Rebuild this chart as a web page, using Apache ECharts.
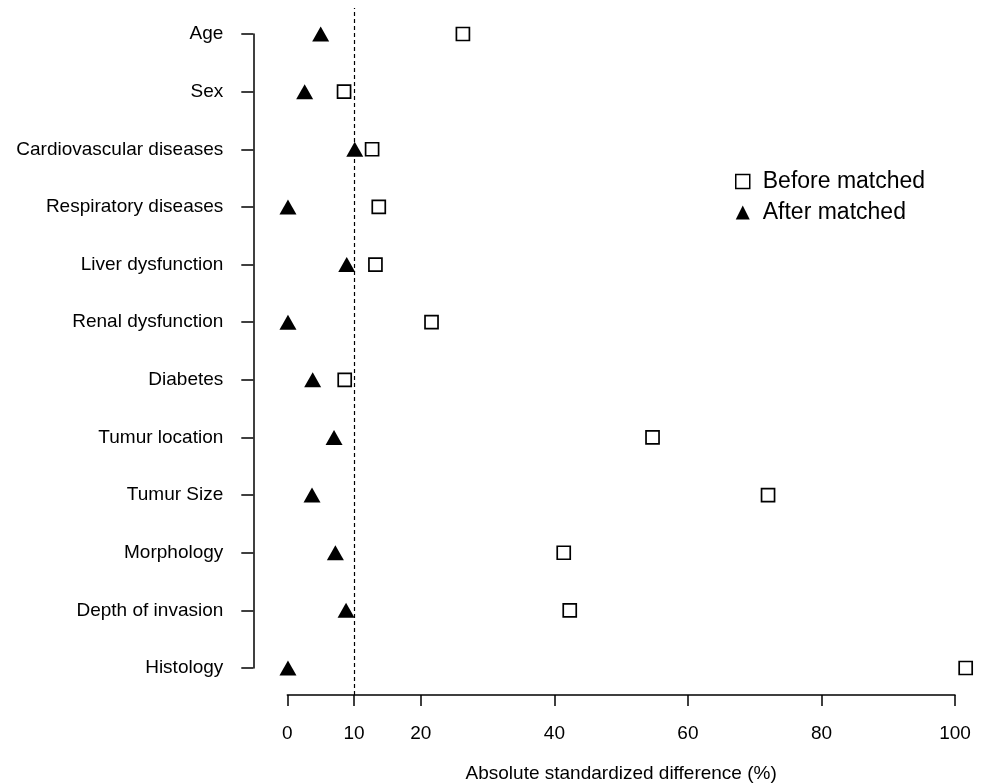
<!DOCTYPE html>
<html>
<head>
<meta charset="utf-8">
<script src="https://cdn.jsdelivr.net/npm/echarts@6/dist/echarts.min.js"></script>
<style>html,body{margin:0;padding:0;background:#fff}#chart{width:984px;height:783px}</style>
</head>
<body>
<div id="chart"></div>
<script>
const categories = ["Age","Sex","Cardiovascular diseases","Respiratory diseases","Liver dysfunction","Renal dysfunction","Diabetes","Tumur location","Tumur Size","Morphology","Depth of invasion","Histology"];
const beforeMatched = [26.3, 8.5, 12.7, 13.7, 13.2, 21.6, 8.6, 54.7, 72.0, 41.4, 42.3, 101.6];
const afterMatched = [5.0, 2.6, 10.1, 0.1, 8.9, 0.1, 3.8, 7.0, 3.7, 7.2, 8.8, 0.1];
const tickValues = [0, 10, 20, 40, 60, 80, 100];
const threshold = 10;
const xTitle = "Absolute standardized difference (%)";

const FONT = "'Liberation Sans', Arial, sans-serif";
const chart = echarts.init(document.getElementById('chart'), null, {renderer: 'canvas'});
chart.setOption({
  animation: false,
  backgroundColor: '#fff',
  textStyle: {fontFamily: FONT, color: '#000'},
  legend: {
    orient: 'vertical',
    left: 730, top: 165,
    itemWidth: 14, itemHeight: 14, itemGap: 8,
    textStyle: {fontFamily: FONT, fontSize: 23, color: '#000', lineHeight: 23, padding: [0,0,0,8]},
    data: [
      {name: 'Before matched', icon: 'rect', itemStyle: {color: '#fff', borderColor: '#000', borderWidth: 1.5, opacity: 1}},
      {name: 'After matched', icon: 'triangle', itemStyle: {color: '#000', opacity: 1}}
    ]
  },
  grid: [
    {left: 287.3, width: 667.7, top: 34, height: 634, containLabel: false, outerBoundsMode: 'none'},
    {left: 287.3, width: 667.7, top: 8, height: 687, containLabel: false, outerBoundsMode: 'none'}
  ],
  xAxis: [
    {gridIndex: 0, type: 'value', min: 0, max: 100, show: false},
    {gridIndex: 1, type: 'value', min: 0, max: 100, interval: 10,
     splitLine: {show: false},
     axisLine: {show: true, onZero: false, lineStyle: {color: '#000', width: 1.5}},
     axisTick: {show: true, length: 11, lineStyle: {color: '#000', width: 1.5}, customValues: tickValues},
     axisLabel: {show: true, margin: 29, fontSize: 19, color: '#000', fontFamily: FONT, customValues: tickValues,
       formatter: v => String(v)},
     name: xTitle, nameLocation: 'middle', nameGap: 69,
     nameTextStyle: {fontSize: 19, color: '#000', fontFamily: FONT}
    }
  ],
  yAxis: [
    {gridIndex: 0, type: 'category', data: categories, inverse: true, boundaryGap: false,
     offset: 34,
     splitLine: {show: false},
     axisLine: {show: true, onZero: false, lineStyle: {color: '#000', width: 1.5}},
     axisTick: {show: true, length: 12, alignWithLabel: true, lineStyle: {color: '#000', width: 1.5}},
     axisLabel: {margin: 30, fontSize: 19, color: '#000', fontFamily: FONT, interval: 0}
    },
    {gridIndex: 1, type: 'value', min: 0, max: 1, show: false}
  ],
  series: [
    {
      name: 'Before matched', type: 'scatter', xAxisIndex: 0, yAxisIndex: 0,
      symbol: 'rect', symbolSize: 13, clip: false,
      itemStyle: {color: '#fff', borderColor: '#000', borderWidth: 1.7, opacity: 1},
      data: beforeMatched.map((v, i) => [v, categories[i]]),
      z: 3
    },
    {
      name: 'After matched', type: 'scatter', xAxisIndex: 0, yAxisIndex: 0,
      symbol: 'triangle', symbolSize: [17, 15], clip: false,
      itemStyle: {color: '#000', opacity: 1},
      data: afterMatched.map((v, i) => [v, categories[i]]),
      z: 4
    },
    {
      name: 'threshold', type: 'line', xAxisIndex: 1, yAxisIndex: 1,
      data: [[threshold, 0]], symbol: 'none', lineStyle: {opacity: 0},
      silent: true,
      markLine: {
        silent: true, symbol: 'none', label: {show: false},
        lineStyle: {color: '#000', type: [4, 3], width: 1.2},
        data: [{xAxis: threshold}]
      },
      z: 1
    }
  ]
});
</script>
</body>
</html>
